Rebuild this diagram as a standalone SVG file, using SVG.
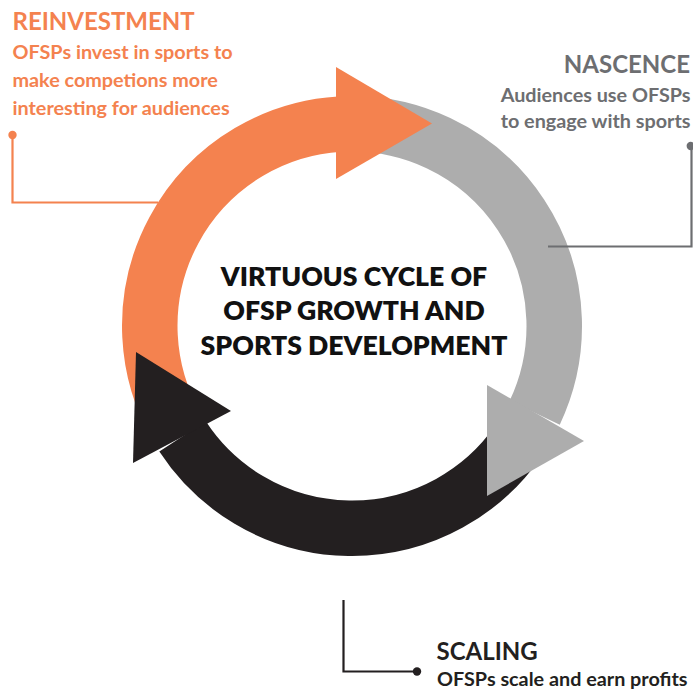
<svg xmlns="http://www.w3.org/2000/svg" width="693" height="689" viewBox="0 0 693 689">
  <style>
    .lbl { font-family: Lato, "Open Sans", "Liberation Sans", sans-serif; font-weight: 700; }
    .head { font-size: 24px; }
    .body { font-size: 19.8px; }
    .orange { fill: #F4824F; }
    .grey { fill: #6D6E71; }
    .dark { fill: #231F20; }
    .title { font-family: Lato, "Liberation Sans", sans-serif; font-weight: 800; font-size: 26.6px; fill: #111111; text-anchor: middle; }
    .ring { fill: none; stroke-width: 55.5; stroke-linecap: butt; }
    .lead { fill: none; stroke-width: 2.2; }
  </style>

  <rect width="693" height="689" fill="#ffffff"/>

  <!-- ring segments: centre (352,326), mid radius 202.25 -->
  <g id="cycle">
    <path class="ring" stroke="#231F20" d="M517.67,442.01 A202.25,202.25 0 0 1 182.57,436.45"/>
    <path class="ring" stroke="#F4824F" d="M176.85,427.10 A202.25,202.25 0 0 1 339.65,124.13"/>
    <path class="ring" stroke="#ADADAD" d="M344.94,123.87 A202.25,202.25 0 0 1 534.70,412.75"/>
    <polygon fill="#F4824F" points="336,67 432,123.5 336,179"/>
    <polygon fill="#ADADAD" points="487,385 584,441 487,496"/>
    <polygon fill="#231F20" points="136,352 231,411 133,463"/>
  </g>

  <g id="title">
    <text class="title" x="354" y="285.5">VIRTUOUS CYCLE OF</text>
    <text class="title" x="354" y="320">OFSP GROWTH AND</text>
    <text class="title" x="354" y="354.5">SPORTS DEVELOPMENT</text>
  </g>

  <!-- leader lines with end dots -->
  <g id="connectors">
    <polyline class="lead" stroke="#F4824F" points="12.5,135 12.5,202.5 158,202.5"/>
    <circle cx="12.5" cy="135" r="4.2" fill="#F4824F"/>
    <polyline class="lead" stroke="#6D6E71" points="691.5,146 691.5,246.5 548,246.5"/>
    <circle cx="690.8" cy="146" r="4.2" fill="#6D6E71"/>
    <polyline class="lead" stroke="#231F20" points="343.5,600 343.5,671.5 417,671.5"/>
    <circle cx="417" cy="671.5" r="4.2" fill="#231F20"/>
  </g>

  <g id="reinvestment">
    <text class="lbl head orange" x="12.5" y="30">REINVESTMENT</text>
    <text class="lbl body orange" x="12.5" y="59.3">OFSPs invest in sports to</text>
    <text class="lbl body orange" x="12.5" y="87.3">make competions more</text>
    <text class="lbl body orange" x="12.5" y="114.5">interesting for audiences</text>
  </g>

  <g id="nascence">
    <text class="lbl head grey" x="690" y="73.3" text-anchor="end">NASCENCE</text>
    <text class="lbl body grey" x="690.5" y="101.7" text-anchor="end">Audiences use OFSPs</text>
    <text class="lbl body grey" x="690.5" y="128.3" text-anchor="end">to engage with sports</text>
  </g>

  <g id="scaling">
    <text class="lbl head dark" x="436.5" y="659.5">SCALING</text>
    <text class="lbl body dark" x="437" y="686">OFSPs scale and earn profits</text>
  </g>
</svg>
